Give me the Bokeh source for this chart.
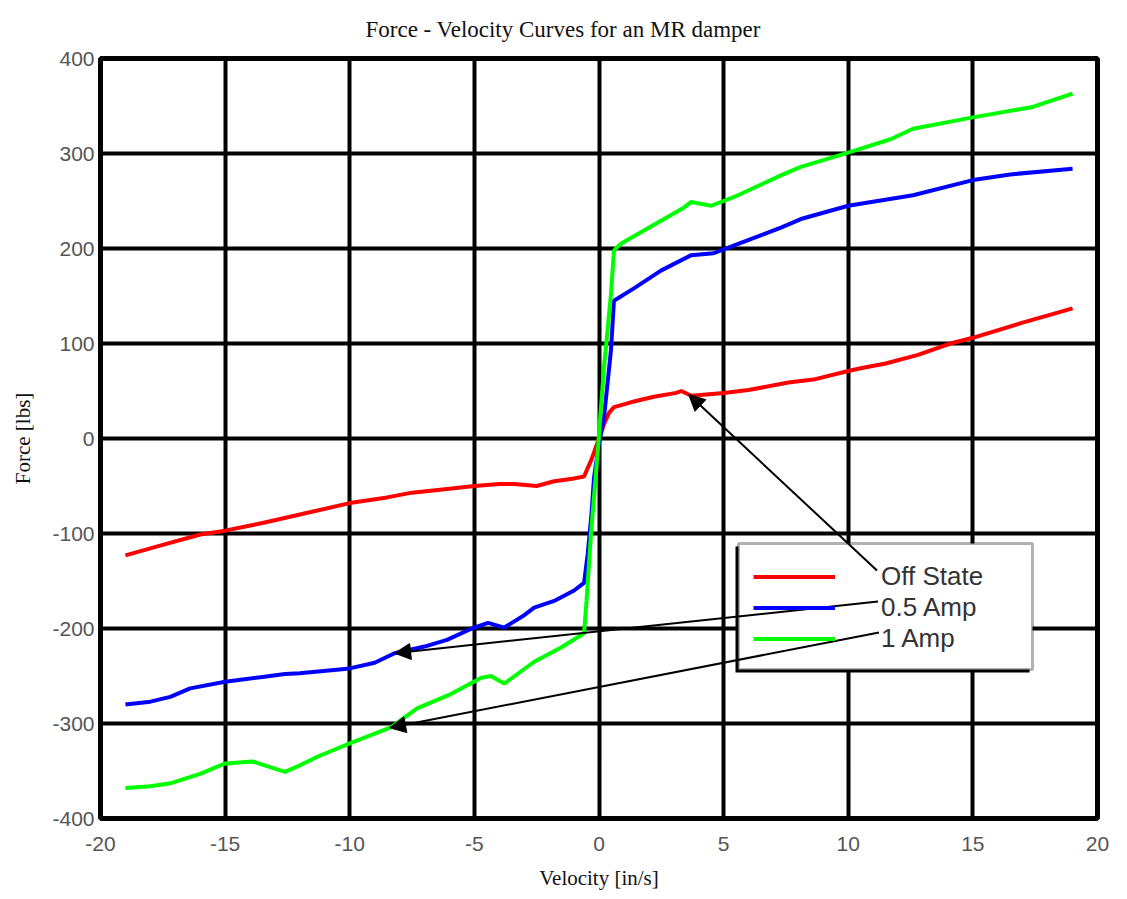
import numpy as np
from bokeh.plotting import figure
from bokeh.models import (Range1d, FixedTicker, Legend, LegendItem, Arrow,
                          NormalHead, BoxAnnotation)
from bokeh.embed import file_html
from bokeh.resources import INLINE

# ---------------- data ----------------
title_text = "Force - Velocity Curves for an MR damper"
x_label = "Velocity [in/s]"
y_label = "Force [lbs]"

x_ticks = [-20, -15, -10, -5, 0, 5, 10, 15, 20]
x_tick_labels = ["-20", "-15", "-10", "-5", "0", "5", "10", "15", "20"]
y_ticks = [-400, -300, -200, -100, 0, 100, 200, 300, 400]
y_tick_labels = ["-400", "-300", "-200", "-100", "0", "100", "200", "300", "400"]

series_names = ["Off State", "0.5 Amp", "1 Amp"]

off_v = [-19, -17.5, -16, -15, -13.5, -12, -10, -8.5, -7.5, -6, -5, -4, -3.4,
         -2.5, -1.8, -1, -0.6, -0.3, 0, 0.2, 0.4, 0.6, 1.0, 1.4, 2.2, 3.1,
         3.3, 3.7, 5.0, 6.0, 7.6, 8.6, 10, 10.5, 11.5, 12.8, 14.1, 15, 17, 19]
off_f = [-123, -112, -101, -97, -89, -80, -68, -62, -57, -53, -50, -48, -48,
         -50, -45, -42, -40, -22, 0, 15, 27, 33, 36, 39, 44, 48,
         50, 45, 48, 51, 59, 62, 71, 74, 79, 88, 100, 106, 122, 137]

half_v = [-19, -18, -17.2, -16.4, -15, -13.5, -12.6, -12, -10, -9, -8.2, -7,
          -6.1, -5.1, -4.45, -3.8, -3, -2.6, -1.8, -1, -0.6, -0.45, -0.3,
          -0.2, 0, 0.2, 0.48, 0.6, 1.4, 2.5, 3.7, 4.6, 5.4, 7.3, 8.1, 10,
          12.6, 15, 16.5, 19]
half_f = [-280, -277, -272, -263, -256, -251, -248, -247, -242, -236, -226,
          -219, -212, -200, -194, -199, -186, -178, -171, -160, -152, -121,
          -79, -41, -5, 22, 93, 145, 158, 177, 193, 195, 203, 222, 231, 245,
          256, 272, 278, 284]

one_v = [-19, -18, -17.2, -16, -15, -13.9, -12.6, -12, -11.3, -10, -8.35,
         -7.3, -5.94, -4.74, -4.34, -3.8, -2.6, -1.52, -0.6, -0.5, -0.32,
         -0.05, 0.2, 0.48, 0.6, 0.88, 1.4, 2.4, 3.4, 3.7, 4.5, 5.4, 7.3, 8.1,
         10, 11.7, 12.6, 15, 17.4, 19]
one_f = [-368, -366, -363, -353, -342, -340, -351, -344, -335, -321, -304,
         -284, -269, -252, -250, -258, -235, -220, -205, -171, -100, -13, 75,
         152, 198, 205, 213, 228, 243, 249, 245, 254, 277, 286, 301, 315,
         326, 338, 349, 363]

# velocities at which the annotation arrows touch each curve
arrow_v = [3.6, -8.2, -8.4]

# ---------------- figure ----------------
FRAME_W, FRAME_H = 997, 760
X0, X1, Y0, Y1 = -20, 20, -400, 400

p = figure(frame_width=FRAME_W, frame_height=FRAME_H,
           x_range=Range1d(X0, X1), y_range=Range1d(Y0, Y1),
           min_border_left=100, min_border_right=24,
           min_border_top=58, min_border_bottom=78,
           output_backend="svg", toolbar_location=None,
           title=title_text)
p.background_fill_color = "white"
p.border_fill_color = "white"
p.outline_line_color = "black"
p.outline_line_width = 5

p.title.text_font = "Liberation Serif"
p.title.text_font_size = "23px"
p.title.text_font_style = "normal"
p.title.text_color = "#111111"
p.title.align = "left"
p.title.offset = 265
p.title.vertical_align = "top"
p.title.standoff = 30

for ax, ticks, labels in ((p.xaxis[0], x_ticks, x_tick_labels),
                          (p.yaxis[0], y_ticks, y_tick_labels)):
    ax.ticker = FixedTicker(ticks=ticks)
    ax.major_label_overrides = {t: l for t, l in zip(ticks, labels)}
    ax.axis_line_color = None
    ax.major_tick_line_color = None
    ax.minor_tick_line_color = None
    ax.major_label_text_font = "Liberation Sans"
    ax.major_label_text_font_size = "21px"
    ax.major_label_text_color = "#555555"
    ax.axis_label_text_font = "Liberation Serif"
    ax.axis_label_text_font_size = "21px"
    ax.axis_label_text_font_style = "normal"
    ax.axis_label_text_color = "#111111"

p.xaxis.axis_label = x_label
p.yaxis.axis_label = y_label
p.xaxis.major_label_standoff = 12
p.xaxis.axis_label_standoff = 12
p.yaxis.major_label_standoff = 0
p.yaxis.axis_label_standoff = 14

p.xgrid.ticker = FixedTicker(ticks=x_ticks)
p.ygrid.ticker = FixedTicker(ticks=y_ticks)
for g in (p.xgrid[0], p.ygrid[0]):
    g.grid_line_color = "black"
    g.grid_line_width = 4
    g.grid_line_alpha = 1

colors = ["#FF0000", "#0000FF", "#00FF00"]
data = [(off_v, off_f), (half_v, half_f), (one_v, one_f)]
renderers = []
for (v, f), c in zip(data, colors):
    r = p.line(v, f, line_color=c, line_width=4)
    renderers.append(r)

# ---------------- legend (box with drop shadow) ----------------
px_x = FRAME_W / (X1 - X0)
px_y = FRAME_H / (Y1 - Y0)
PAD, GLYPH_W, ROW_H, STANDOFF, LABEL_W, BORDER = 15, 82, 31, 46, 133, 3
LEG_X, LEG_Y = 638, 149                        # screen px from frame bottom-left
LEG_W = 2 * PAD + GLYPH_W + STANDOFF + LABEL_W + BORDER
LEG_H = 2 * PAD + 3 * ROW_H + BORDER
SH = 3


def sx(px):
    return X0 + px / px_x


def sy(py):
    return Y0 + py / px_y


p.add_layout(BoxAnnotation(left=sx(LEG_X - SH), right=sx(LEG_X + LEG_W - SH),
                           bottom=sy(LEG_Y - SH), top=sy(LEG_Y + LEG_H - SH),
                           fill_color="black", fill_alpha=1, line_color=None))
p.add_layout(BoxAnnotation(left=sx(LEG_X), right=sx(LEG_X + LEG_W),
                           bottom=sy(LEG_Y), top=sy(LEG_Y + LEG_H),
                           fill_color="white", fill_alpha=1,
                           line_color="black", line_width=BORDER))

legend = Legend(items=[LegendItem(label=n, renderers=[r])
                       for n, r in zip(series_names, renderers)],
                location=(LEG_X, LEG_Y))
legend.border_line_alpha = 0
legend.background_fill_alpha = 0
legend.padding = PAD
legend.spacing = 0
legend.margin = 0
legend.glyph_width = GLYPH_W
legend.glyph_height = ROW_H
legend.label_height = ROW_H
legend.label_width = LABEL_W
legend.label_standoff = STANDOFF
legend.label_text_font = "Liberation Sans"
legend.label_text_font_size = "26px"
legend.label_text_color = "#333333"
p.add_layout(legend, "center")

# ---------------- arrows from legend labels to curves ----------------
label_px_x = LEG_X + BORDER / 2 + PAD + GLYPH_W + STANDOFF
for i, ((v, f), av) in enumerate(zip(data, arrow_v)):
    row_center_py = LEG_Y + LEG_H - BORDER / 2 - PAD - ROW_H * i - ROW_H / 2
    tail_x = sx(label_px_x - 6 + i)
    tail_y = sy(row_center_py + 5)
    head_y = float(np.interp(av, v, f))
    p.add_layout(Arrow(end=NormalHead(size=16, fill_color="black",
                                      line_color="black"),
                       x_start=tail_x, y_start=tail_y,
                       x_end=av, y_end=head_y,
                       line_color="black", line_width=2, level="overlay"))

open("out.html", "w").write(file_html(p, INLINE))
